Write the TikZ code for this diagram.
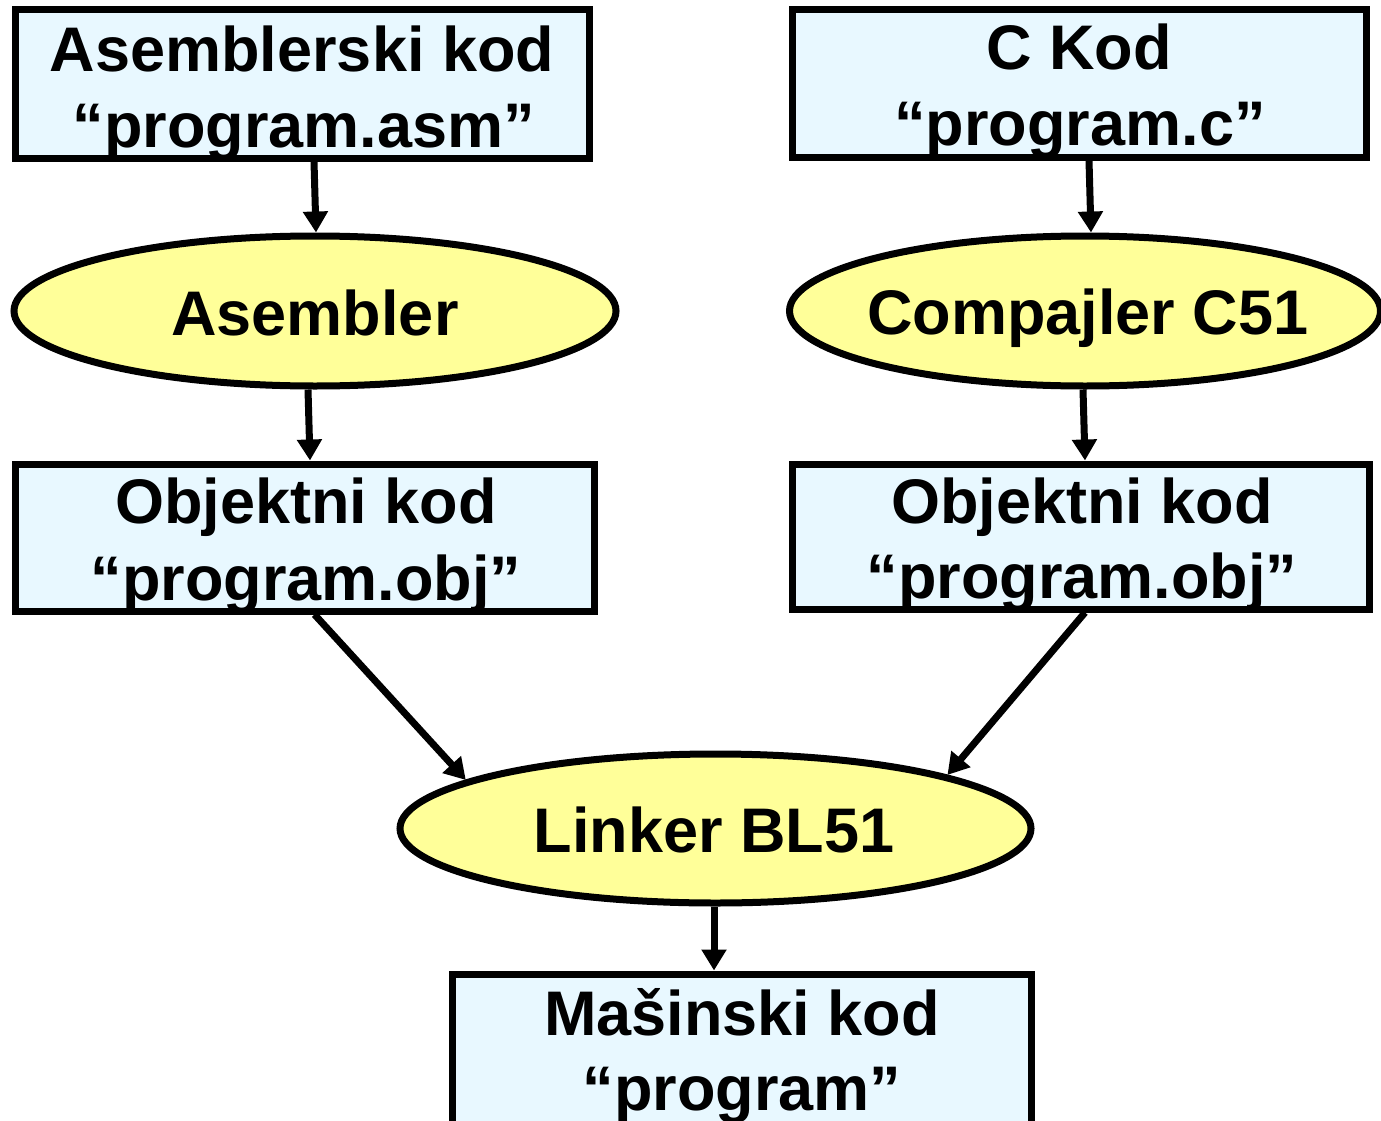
\documentclass[tikz,border=0pt]{standalone}
\usepackage{fontspec}
\setmainfont{Liberation Sans}
\usetikzlibrary{shapes.geometric,arrows.meta}
\definecolor{boxfill}{HTML}{E8F8FF}
\definecolor{ellfill}{HTML}{FFFF99}
\tikzset{
  boxnode/.style={draw=black, line width=7pt, fill=boxfill, rectangle, inner sep=0pt},
  ellnode/.style={draw=black, line width=7pt, fill=ellfill, ellipse, inner sep=0pt},
  txt/.style={anchor=base, inner sep=0pt, font=\fontsize{63}{76}\selectfont\bfseries},
  conn/.style={line width=7pt, -{Triangle[length=21pt,width=24pt]}}
}
\begin{document}
\begin{tikzpicture}[x=1pt,y=-1pt]
\useasboundingbox (0,0) rectangle (1381,1121);
% boxes
\node[boxnode, minimum width=574pt, minimum height=148pt] (b1) at (302,84) {};
\node[boxnode, minimum width=574pt, minimum height=147pt] (b2) at (1079,83.5) {};
\node[boxnode, minimum width=579pt, minimum height=147pt] (b3) at (304.5,537.5) {};
\node[boxnode, minimum width=577pt, minimum height=145pt] (b4) at (1080.5,536.5) {};
\node[boxnode, minimum width=579pt, minimum height=151pt] (b5) at (741.5,1049.5) {};
% ellipses
\node[ellnode, minimum width=602pt, minimum height=150pt] (e1) at (315,311) {};
\node[ellnode, minimum width=591pt, minimum height=150pt] (e2) at (1085,311) {};
\node[ellnode, minimum width=631pt, minimum height=149pt] (e3) at (715.5,828.5) {};
% connectors
\draw[conn] ([xshift=12pt]b1.south) -- ([xshift=1pt]e1.north);
\draw[conn] ([xshift=10pt]b2.south) -- ([xshift=6pt]e2.north);
\draw[conn] ([xshift=-7pt]e1.south) -- ([xshift=5.5pt]b3.north);
\draw[conn] ([xshift=-2pt]e2.south) -- ([xshift=4.5pt]b4.north);
\draw[conn] ([xshift=10pt]b3.south) -- (e3.169);
\draw[conn] ([xshift=4.5pt]b4.south) -- (e3.13);
\draw[conn] ([xshift=-1.5pt]e3.south) -- ([xshift=-27.5pt]b5.north);
% texts
\node[txt] (t1a) at (302,72) {Asemblerski kod};
\node[txt] (t1b) at (304,147) {“program.asm”};
\node[txt] (t2a) at (1079,70) {C Kod};
\node[txt] (t2b) at (1080,146) {“program.c”};
\node[txt] (t3) at (315,335) {Asembler};
\node[txt] (t4) at (1088,334) {Compajler C51};
\node[txt] (t5a) at (306,523) {Objektni kod};
\node[txt] (t5b) at (306,600) {“program.obj”};
\node[txt] (t6a) at (1082,523) {Objektni kod};
\node[txt] (t6b) at (1082,598) {“program.obj”};
\node[txt] (t7) at (714,852) {Linker BL51};
\node[txt] (t8a) at (742,1035) {Mašinski kod};
\node[txt] (t8b) at (742,1110) {“program”};
\end{tikzpicture}
\end{document}
